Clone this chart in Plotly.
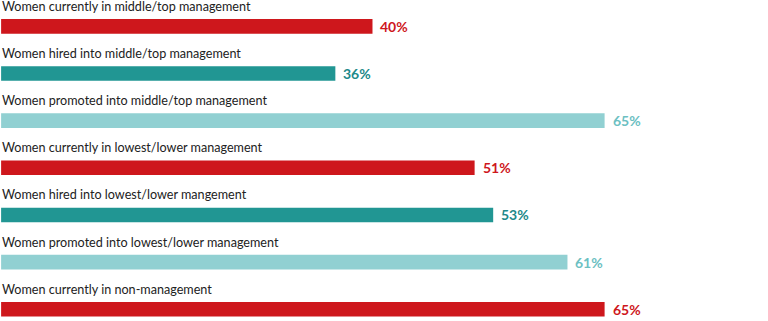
import plotly.graph_objects as go

categories = [
    "Women currently in middle/top management",
    "Women hired into middle/top management",
    "Women promoted into middle/top management",
    "Women currently in lowest/lower management",
    "Women hired into lowest/lower mangement",
    "Women promoted into lowest/lower management",
    "Women currently in non-management",
]
values = [40, 36, 65, 51, 53, 61, 65]
value_labels = ["40%", "36%", "65%", "51%", "53%", "61%", "65%"]
bar_colors = ["#CE171C", "#219693", "#91D0D2", "#CE171C", "#219693", "#91D0D2", "#CE171C"]
label_colors = ["#CE171C", "#21898A", "#6CC0C2", "#CE171C", "#21898A", "#6CC0C2", "#CE171C"]

idx = list(range(len(categories)))

fig = go.Figure(go.Bar(
    x=values, y=idx, orientation="h",
    marker=dict(color=bar_colors, line=dict(width=0)),
    width=0.31, hoverinfo="skip",
))

annotations = []
for i, (c, v, t, lc) in enumerate(zip(categories, values, value_labels, label_colors)):
    annotations.append(dict(
        x=0, y=i, xref="x", yref="y", text=c, showarrow=False,
        xanchor="left", yanchor="middle", yshift=20, xshift=-1,
        font=dict(family="Lato, sans-serif", size=12.6, color="#222222"),
    ))
    annotations.append(dict(
        x=v, y=i, xref="x", yref="y", text="<b>" + t + "</b>", showarrow=False,
        xanchor="left", yanchor="middle", xshift=6,
        font=dict(family="Lato, sans-serif", size=14, color=lc),
    ))

fig.update_layout(
    width=768, height=321,
    margin=dict(l=0, r=0, t=0, b=0),
    paper_bgcolor="white", plot_bgcolor="white",
    showlegend=False,
    xaxis=dict(range=[-0.12, 82.6], visible=False, fixedrange=True),
    yaxis=dict(range=[6.25, -0.56], visible=False, fixedrange=True),
    annotations=annotations,
)

fig.write_html(
    "out.html",
    config={"displayModeBar": False},
    post_script="document.body.style.margin='0';document.body.style.overflow='hidden';",
)
